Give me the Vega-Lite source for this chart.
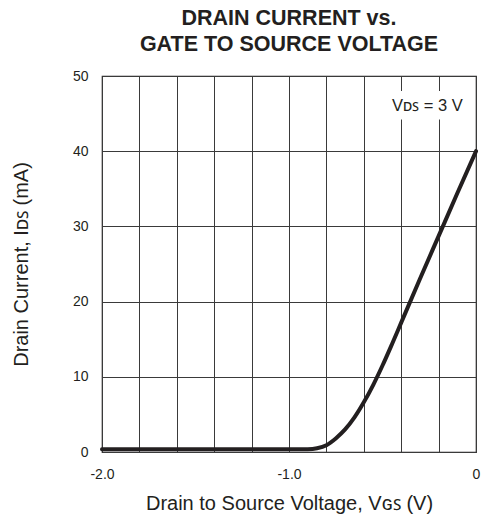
{
  "$schema": "https://vega.github.io/schema/vega-lite/v6.json",
  "width": 374,
  "height": 376,
  "autosize": "none",
  "padding": {"left": 102, "top": 76, "right": 6, "bottom": 62},
  "background": "white",
  "title": {
    "text": ["DRAIN CURRENT vs.", "GATE TO SOURCE VOLTAGE"],
    "font": "Liberation Sans",
    "fontSize": 21.5,
    "fontWeight": "bold",
    "color": "#231f20",
    "lineHeight": 26,
    "offset": 14,
    "anchor": "middle"
  },
  "config": {
    "font": "Liberation Sans",
    "view": {"stroke": "#231f20", "strokeWidth": 1.2},
    "axis": {
      "labelFont": "Liberation Sans",
      "titleFont": "Liberation Sans",
      "labelColor": "#231f20",
      "titleColor": "#231f20",
      "labelFontSize": 14,
      "titleFontSize": 20,
      "titleFontWeight": "normal",
      "grid": true,
      "gridColor": "#3a3a3a",
      "gridWidth": 1,
      "gridOpacity": 1,
      "ticks": false,
      "domain": false,
      "labelOverlap": false,
      "labelBound": false,
      "labelFlush": false
    }
  },
  "layer": [
    {
      "data": {"values": [{"x1": -0.46, "x2": -0.06, "y1": 44.2, "y2": 48.0}]},
      "mark": {"type": "rect", "fill": "white", "stroke": null},
      "encoding": {
        "x": {"field": "x1", "type": "quantitative", "scale": {"domain": [-2, 0], "nice": false},
          "axis": {
            "values": [-2, -1.8, -1.6, -1.4, -1.2, -1, -0.8, -0.6, -0.4, -0.2, 0],
            "tickCount": 30,
            "labelExpr": "datum.value == -2 ? '-2.0' : (datum.value == -1 ? '-1.0' : (datum.value == 0 ? '0' : ''))",
            "labelPadding": 15,
            "title": "Drain to Source Voltage, Vɢꜱ (V)",
            "titlePadding": 12
          }},
        "x2": {"field": "x2"},
        "y": {"field": "y1", "type": "quantitative", "scale": {"domain": [0, 50], "nice": false},
          "axis": {
            "values": [0, 10, 20, 30, 40, 50],
            "tickCount": 30,
            "labelPadding": 14,
            "title": "Drain Current, Iᴅꜱ (mA)",
            "titlePadding": 41
          }},
        "y2": {"field": "y2"}
      }
    },
    {
      "data": {"values": [{"x": -0.26, "y": 46.0, "t": "Vᴅꜱ = 3 V"}]},
      "mark": {"type": "text", "fontSize": 16.5, "color": "#231f20", "align": "center", "baseline": "middle", "font": "Liberation Sans"},
      "encoding": {
        "x": {"field": "x", "type": "quantitative"},
        "y": {"field": "y", "type": "quantitative"},
        "text": {"field": "t"}
      }
    },
    {
      "data": {"values": [
        {"v": -2.0, "i": 0.35},
        {"v": -1.5, "i": 0.35},
        {"v": -1.0, "i": 0.35},
        {"v": -0.9, "i": 0.37},
        {"v": -0.85, "i": 0.5},
        {"v": -0.8, "i": 0.9},
        {"v": -0.75, "i": 1.8},
        {"v": -0.7, "i": 3.0},
        {"v": -0.65, "i": 4.6},
        {"v": -0.6, "i": 6.6},
        {"v": -0.55, "i": 8.9},
        {"v": -0.5, "i": 11.5},
        {"v": -0.45, "i": 14.3},
        {"v": -0.4, "i": 17.2},
        {"v": -0.3, "i": 23.0},
        {"v": -0.2, "i": 28.7},
        {"v": -0.1, "i": 34.4},
        {"v": 0.0, "i": 40.0}
      ]},
      "mark": {"type": "line", "color": "#231f20", "strokeWidth": 4, "interpolate": "monotone", "strokeCap": "round"},
      "encoding": {
        "x": {"field": "v", "type": "quantitative"},
        "y": {"field": "i", "type": "quantitative"}
      }
    }
  ]
}
